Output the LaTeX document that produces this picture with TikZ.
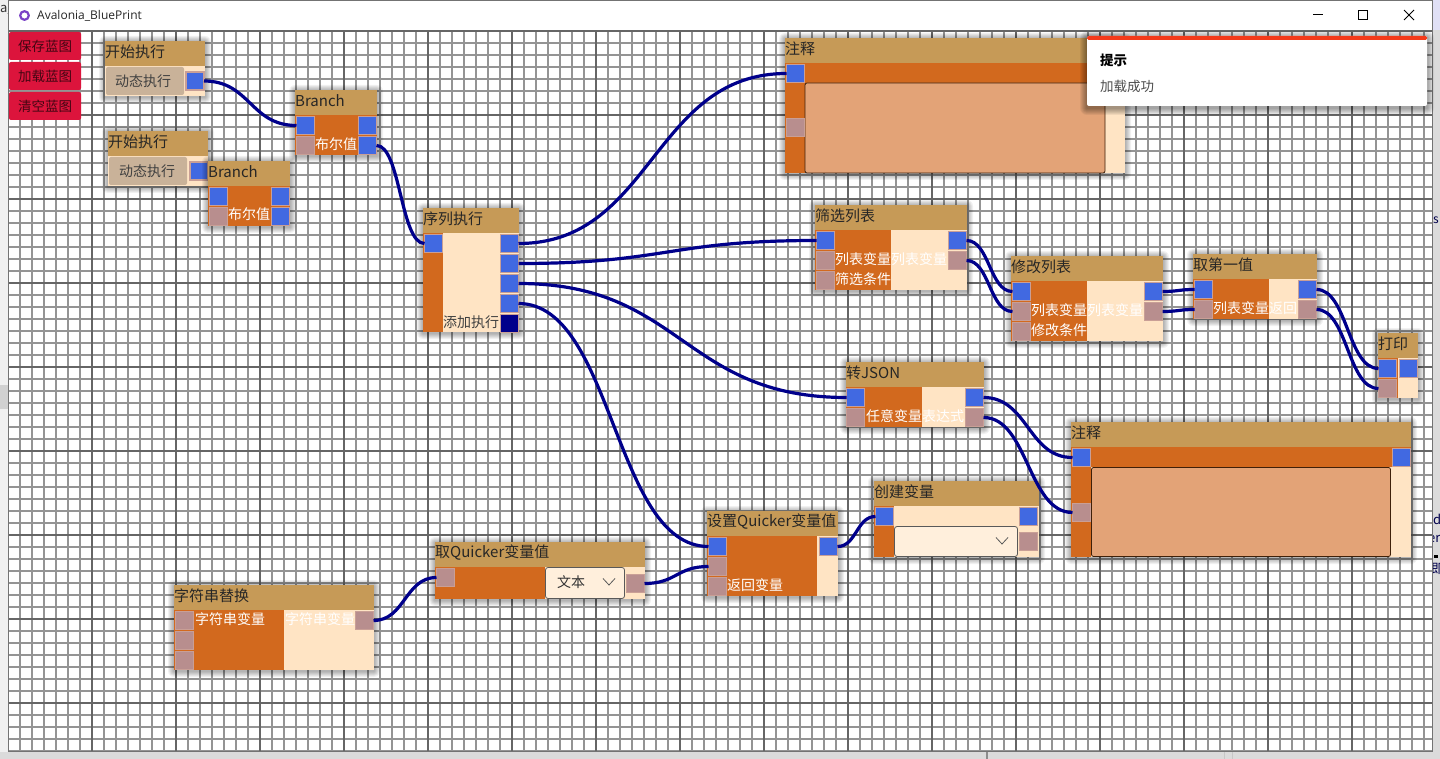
\documentclass[tikz,border=0pt]{standalone}
\usepackage{fontspec}
\setmainfont{Noto Sans CJK SC}
\newfontfamily\uifont{Open Sans}
\usetikzlibrary{calc}
\definecolor{hdr}{HTML}{C69A57}
\definecolor{org}{HTML}{D2691E}
\definecolor{bsq}{HTML}{FFE4C4}
\definecolor{portblue}{HTML}{4169E1}
\definecolor{portpink}{HTML}{B88E8E}
\definecolor{portedge}{HTML}{C99F96}
\definecolor{wirec}{HTML}{00008B}
\definecolor{memo}{HTML}{E3A377}
\definecolor{combo}{HTML}{FFEFDC}
\definecolor{tan2}{HTML}{C9B299}
\definecolor{crim}{HTML}{DC143C}
\definecolor{gridthin}{HTML}{949494}
\definecolor{gridbold}{HTML}{666666}
\definecolor{toastbar}{HTML}{F43A1A}
\tikzset{
  x=1pt,y=-1pt,
  wire/.style={draw=wirec,line width=3.2pt},
  portbase/.style={rectangle,minimum width=18pt,minimum height=18pt,inner sep=0pt,outer sep=0pt,draw=portedge,line width=1.4pt,anchor=north west},
  pblue/.style={portbase,fill=portblue},
  ppink/.style={portbase,fill=portpink},
  pnavy/.style={portbase,fill=wirec},
  hdrtext/.style={anchor=west,inner sep=0pt,font=\fontsize{15pt}{16pt}\selectfont,text=black!85},
  wlabel/.style={anchor=west,inner sep=0pt,font=\fontsize{14pt}{16pt}\selectfont,text=white},
  dlabel/.style={anchor=west,inner sep=0pt,font=\fontsize{14pt}{16pt}\selectfont,text=black!75},
  btn/.style={rectangle,rounded corners=2pt,fill=crim,minimum width=72pt,minimum height=28pt,inner sep=0pt,outer sep=0pt,anchor=north west,font=\fontsize{13.5pt}{16pt}\selectfont,text=black!70!crim},
  tanbox/.style={rectangle,rounded corners=2pt,fill=tan2,minimum width=78pt,minimum height=28pt,inner sep=0pt,outer sep=0pt,anchor=north west},
  combobox/.style={rectangle,rounded corners=2.5pt,fill=combo,draw=black!65,line width=0.8pt,inner sep=0pt,outer sep=0pt,anchor=north west},
  memobox/.style={rectangle,rounded corners=2pt,fill=memo,draw=black!70!org,line width=0.8pt,inner sep=0pt,outer sep=0pt,anchor=north west},
  chev/.style={draw=black!65,line width=0.8pt},
}
% #1 name, #2 x1, #3 y1, #4 x2, #5 y2, #6 title
\newcommand\bpnode[6]{%
  \foreach \r in {6,5,4,3,2,1}{%
    \fill[black,opacity=0.055,rounded corners=\r pt] (#2-\r,#3-\r+1) rectangle (#4+\r,#5+\r+1);}
  \fill[bsq] (#2,#3) rectangle (#4,#5);
  \fill[hdr] (#2,#3) rectangle (#4,#3+25);
  \node[hdrtext] (#1) at (#2,#3+10.5) {#6};
}
\newcommand\orgrect[4]{\fill[org] (#1,#2) rectangle (#3,#4);}
\newcommand\wirelink[2]{%
  \draw[wire] let \p1=(#1.east), \p2=(#2.west), \n1={(\x1+\x2)/2} in
    (\p1) .. controls (\n1,\y1) and (\n1,\y2) .. (\p2);}
\newcommand\chevron[2]{\draw[chev] (#1-6,#2-3.5) -- (#1,#2+3) -- (#1+6,#2-3.5);}
\begin{document}
\begin{tikzpicture}
\useasboundingbox (0,0) rectangle (1440,759);
% surroundings
\fill[black!6] (0,0) rectangle (1440,759);
\fill[black!18] (0,385) rectangle (8,409);
\fill[black!14] (1432,0) rectangle (1440,759);
\fill[black!30!blue!12] (1432,0) rectangle (1440,30);
\fill[black!14] (0,752) rectangle (1440,759);
\fill[black!45] (986,752) rectangle (988,759);
\fill[black!22] (1224,752) rectangle (1225,759);
\fill[black!22] (1232,752) rectangle (1233,759);
\begin{scope}
\clip (0,0) rectangle (8,40);
\node[anchor=west,inner sep=0pt,font=\fontsize{13pt}{14pt}\selectfont,text=black!80] (outa) at (0,10) {a\_};
\end{scope}
\begin{scope}
\clip (1432.5,0) rectangle (1440,759);
\node[anchor=west,inner sep=0pt,font=\fontsize{12pt}{14pt}\selectfont,text=black!70!blue] (outs) at (1433,220) {s};
\node[anchor=west,inner sep=0pt,font=\fontsize{13pt}{14pt}\selectfont,text=black!70!blue] (outd) at (1433,519) {d};
\node[anchor=west,inner sep=0pt,font=\fontsize{13pt}{14pt}\selectfont,text=black!70!blue] (oute) at (1428,539) {er};
\node[anchor=west,inner sep=0pt,font=\fontsize{13pt}{14pt}\selectfont,text=black!70!blue] (outj) at (1431,569) {即};
\fill[black] (1434,555) rectangle (1438,558);
\end{scope}
% window
\fill[white] (8,1) rectangle (1432,751);
\begin{scope}
\clip (8,31) rectangle (1432,751);
\foreach \k in {0,...,119}{\fill[gridthin] (7+12*\k,31) rectangle ++(2,720);}
\foreach \k in {0,...,60}{\fill[gridthin] (8,30+12*\k) rectangle ++(1424,2);}
\foreach \k in {0,...,17}{\fill[gridbold] (7+84*\k,31) rectangle ++(2,720);}
\foreach \k in {0,...,8}{\fill[gridbold] (8,30+84*\k) rectangle ++(1424,2);}
\end{scope}
\draw[black!55,line width=1pt] (8,0.5) -- (8,751.5) -- (1432.5,751.5) -- (1432.5,0.5) -- cycle;
% title bar
\draw[line width=2.2pt,draw=violet!60!blue!75] (24.5,15.5) circle (4.3);
\node[anchor=west,inner sep=0pt,font=\uifont\fontsize{12pt}{14pt}\selectfont,text=black!85] (wintitle) at (37,15.5) {Avalonia\_BluePrint};
\draw[black,line width=1pt] (1313,15) -- (1323,15);
\draw[black,line width=1pt] (1358.5,10.5) rectangle (1367.5,19.5);
\draw[black,line width=1pt] (1404,10) -- (1414,20) (1414,10) -- (1404,20);
% buttons
\node[btn] (bsave) at (9,32) {保存蓝图};
\node[btn] (bload) at (9,62) {加载蓝图};
\node[btn] (bclear) at (9,92) {清空蓝图};
% start 1
\bpnode{sa}{105}{41}{205}{96}{开始执行}
\node[tanbox] (sabtn) at (106,67) {};
\node[dlabel] (salab) at (115,81) {动态执行};
\node[pblue] (saO) at (186,72) {};
% start 2
\bpnode{sb}{108}{131}{208}{186}{开始执行}
\node[tanbox] (sbbtn) at (109,157) {};
\node[dlabel] (sblab) at (119,171) {动态执行};
\node[pblue] (sbO) at (190,162) {};
% branch 1
\bpnode{ba}{295}{90}{377}{155}{Branch}
\orgrect{295}{115}{377}{155}
\node[pblue] (baI) at (296.5,116.5) {};
\node[ppink] (baC) at (296.5,136.5) {};
\node[pblue] (baO) at (358.5,116.5) {};
\node[pblue] (baP) at (358.5,136.5) {};
\node[wlabel] (balab) at (315,144) {布尔值};
% branch 2
\bpnode{bb}{208}{161}{290}{226}{Branch}
\orgrect{208}{186}{290}{226}
\node[pblue] (bbI) at (209.5,187.5) {};
\node[ppink] (bbC) at (209.5,207.5) {};
\node[pblue] (bbO) at (271.5,187.5) {};
\node[pblue] (bbP) at (271.5,207.5) {};
\node[wlabel] (bblab) at (228,214) {布尔值};
% sequence
\bpnode{sq}{423}{208}{519}{332}{序列执行}
\orgrect{423}{233}{443}{332}
\node[pblue] (sqI) at (424.5,234.5) {};
\node[pblue] (sqA) at (500.5,234.5) {};
\node[pblue] (sqB) at (500.5,254.5) {};
\node[pblue] (sqC) at (500.5,274.5) {};
\node[pblue] (sqD) at (500.5,294.5) {};
\node[pnavy] (sqE) at (500.5,314.5) {};
\node[dlabel] (sqlab) at (443,322) {添加执行};
% memo 1
\bpnode{ma}{785}{38}{1125}{173}{注释}
\orgrect{785}{63}{1125}{83}
\orgrect{785}{63}{805}{173}
\node[memobox,minimum width=300pt,minimum height=90pt] (mabox) at (805,83) {};
\node[pblue] (maI) at (786.5,64.5) {};
\node[ppink] (maT) at (786.5,118.5) {};
% filter
\bpnode{fl}{815}{205}{967}{290}{筛选列表}
\orgrect{815}{230}{891}{290}
\node[pblue] (flI) at (816.5,231.5) {};
\node[ppink] (flL) at (816.5,251.5) {};
\node[ppink] (flC) at (816.5,271.5) {};
\node[pblue] (flO) at (948.5,231.5) {};
\node[ppink] (flR) at (948.5,251.5) {};
\node[wlabel] (fll1) at (835,259) {列表变量};
\node[wlabel] (fll2) at (835,279) {筛选条件};
\node[wlabel] (fll3) at (891,259) {列表变量};
% modify
\bpnode{mo}{1011}{256}{1163}{341}{修改列表}
\orgrect{1011}{281}{1087}{341}
\node[pblue] (moI) at (1012.5,282.5) {};
\node[ppink] (moL) at (1012.5,302.5) {};
\node[ppink] (moC) at (1012.5,322.5) {};
\node[pblue] (moO) at (1144.5,282.5) {};
\node[ppink] (moR) at (1144.5,302.5) {};
\node[wlabel] (mol1) at (1031,310) {列表变量};
\node[wlabel] (mol2) at (1031,330) {修改条件};
\node[wlabel] (mol3) at (1087,310) {列表变量};
% first
\bpnode{fi}{1193}{254}{1317}{319}{取第一值}
\orgrect{1193}{279}{1269}{319}
\node[pblue] (fiI) at (1194.5,280.5) {};
\node[ppink] (fiL) at (1194.5,300.5) {};
\node[pblue] (fiO) at (1298.5,280.5) {};
\node[ppink] (fiR) at (1298.5,300.5) {};
\node[wlabel] (fil1) at (1213,308) {列表变量};
\node[wlabel] (fil2) at (1269,308) {返回};
% print
\bpnode{pr}{1378}{333}{1418}{398}{打印}
\orgrect{1378}{358}{1398}{398}
\node[pblue] (prI) at (1378.5,359.5) {};
\node[ppink] (prV) at (1378.5,379.5) {};
\node[pblue] (prO) at (1399.5,359.5) {};
% json
\bpnode{js}{846}{362}{984}{427}{转JSON}
\orgrect{846}{387}{922}{427}
\node[pblue] (jsI) at (846.5,388.5) {};
\node[ppink] (jsV) at (846.5,408.5) {};
\node[pblue] (jsO) at (965.5,388.5) {};
\node[ppink] (jsR) at (965.5,408.5) {};
\node[wlabel] (jsl1) at (866,416) {任意变量};
\node[wlabel] (jsl2) at (922,416) {表达式};
% memo 2
\bpnode{mb}{1071}{422}{1411}{557}{注释}
\orgrect{1071}{447}{1411}{467}
\orgrect{1071}{447}{1091}{557}
\fill[bsq] (1391,467) rectangle (1411,557);
\node[memobox,minimum width=299pt,minimum height=89pt] (mbbox) at (1091.5,467.5) {};
\node[pblue] (mbI) at (1072.5,448.5) {};
\node[ppink] (mbT) at (1072.5,503.5) {};
\node[pblue] (mbO) at (1392.5,448.5) {};
% create var
\bpnode{cv}{874}{481}{1039}{557}{创建变量}
\orgrect{874}{506}{894}{557}
\node[combobox,minimum width=123pt,minimum height=30pt] (cvbox) at (894.5,526.5) {};
\chevron{1002}{541}
\node[pblue] (cvI) at (875.5,507.5) {};
\node[pblue] (cvO) at (1019.5,507.5) {};
\node[ppink] (cvR) at (1019.5,532.5) {};
% set quicker
\bpnode{sv}{707}{511}{838}{596}{设置Quicker变量值}
\orgrect{707}{536}{817}{596}
\node[pblue] (svI) at (708.5,537.5) {};
\node[ppink] (svV) at (708.5,557.5) {};
\node[ppink] (svR) at (708.5,577.5) {};
\node[pblue] (svO) at (819.5,537.5) {};
\node[wlabel] (svl) at (727,585) {返回变量};
% get quicker
\bpnode{gv}{435}{542}{645}{599}{取Quicker变量值}
\orgrect{435}{567}{545}{599}
\node[combobox,minimum width=79pt,minimum height=31pt] (gvbox) at (545.5,567.5) {};
\node[anchor=center,inner sep=0pt,font=\fontsize{14pt}{16pt}\selectfont,text=black!80] (gvtxt) at (571,582.5) {文本};
\chevron{609}{582}
\node[ppink] (gvI) at (436.5,568.5) {};
\node[ppink] (gvO) at (626.5,574.5) {};
% replace
\bpnode{rp}{174}{585}{374}{670}{字符串替换}
\orgrect{174}{610}{284}{670}
\node[ppink] (rpA) at (175.5,611.5) {};
\node[ppink] (rpB) at (175.5,631.5) {};
\node[ppink] (rpC) at (175.5,651.5) {};
\node[ppink] (rpO) at (355.5,611.5) {};
\node[wlabel] (rpl1) at (195,619) {字符串变量};
\node[wlabel] (rpl2) at (285,619) {字符串变量};
% connectors
\wirelink{saO}{baI}
\wirelink{baP}{sqI}
\wirelink{sqA}{maI}
\wirelink{sqB}{flI}
\wirelink{sqC}{jsI}
\wirelink{sqD}{svI}
\wirelink{flO}{moI}
\wirelink{flR}{moL}
\wirelink{moO}{fiI}
\wirelink{moR}{fiL}
\wirelink{fiO}{prI}
\wirelink{fiR}{prV}
\wirelink{jsO}{mbI}
\wirelink{jsR}{mbT}
\wirelink{svO}{cvI}
\wirelink{rpO}{gvI}
\wirelink{gvO}{svV}
% toast
\foreach \r in {7,6,5,4,3,2,1}{%
  \fill[black,opacity=0.06,rounded corners=\r pt] (1087-\r,36-\r+2) rectangle (1427+\r,106+\r+2);}
\fill[white,rounded corners=2pt] (1087,36) rectangle (1427,106);
\fill[toastbar,rounded corners=1.5pt] (1087,36) rectangle (1427,40);
\node[anchor=west,inner sep=0pt,font=\fontsize{13.5pt}{16pt}\selectfont\bfseries,text=black] (tt) at (1100,60) {提示};
\node[anchor=west,inner sep=0pt,font=\fontsize{13.5pt}{16pt}\selectfont,text=black!70] (tm) at (1100,86) {加载成功};
\end{tikzpicture}
\end{document}
